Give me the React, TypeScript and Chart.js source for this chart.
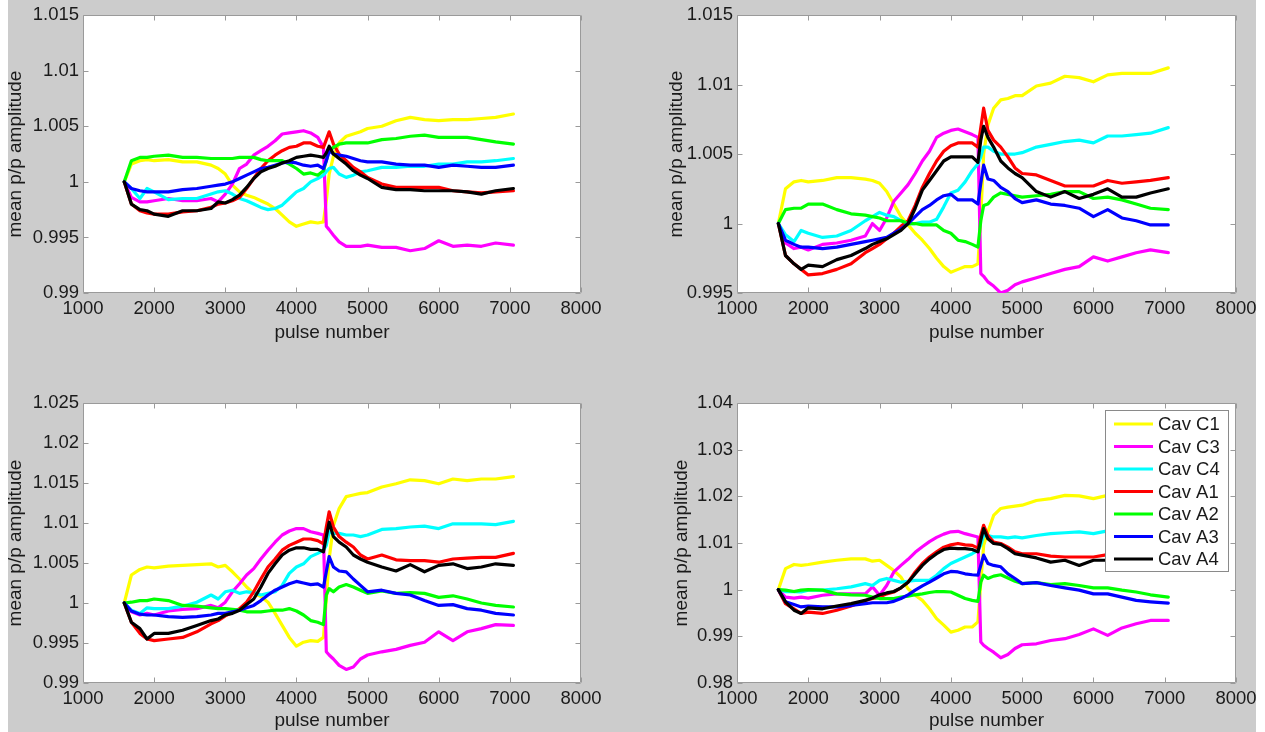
import React, { useEffect, useRef } from "react";
import { Chart, registerables } from "chart.js";

Chart.register(...registerables);

const FONT = "'Liberation Sans', Arial, Helvetica, sans-serif";
const TEXT_COLOR = "#1a1a1a";
const AXIS_COLOR = "#9a9a9a";
const TICK_SIZE = 18.5;
const TITLE_SIZE = 19;

// ---------- DATA ----------
const pulseNumbers = [
  1580, 1680, 1800, 1900, 2000, 2200, 2400, 2600, 2800, 2900, 3000, 3100, 3200, 3300, 3400,
  3500, 3600, 3700, 3800, 3900, 4000, 4100, 4200, 4300, 4380, 4420, 4460, 4520, 4600, 4700,
  4800, 4900, 5000, 5200, 5400, 5600, 5800, 6000, 6200, 6400, 6600, 6800, 7050,
];

const xTickValues = [1000, 2000, 3000, 4000, 5000, 6000, 7000, 8000];

const seriesLabels = ["Cav C1", "Cav C3", "Cav C4", "Cav A1", "Cav A2", "Cav A3", "Cav A4"];
const seriesColors = ["#ffff00", "#ff00ff", "#00ffff", "#ff0000", "#00ff00", "#0000ff", "#000000"];

const yTicksTopLeft = [0.99, 0.995, 1, 1.005, 1.01, 1.015];
const yTicksTopRight = [0.995, 1, 1.005, 1.01, 1.015];
const yTicksBottomLeft = [0.99, 0.995, 1, 1.005, 1.01, 1.015, 1.02, 1.025];
const yTicksBottomRight = [0.98, 0.99, 1, 1.01, 1.02, 1.03, 1.04];

// values are deviations of mean p/p amplitude from 1, in units of 1e-3
const tlC1 = [0, 1.6, 1.9, 2.0, 1.9, 2.0, 1.8, 1.8, 1.5, 1.2, 0.7, -0.3, -0.9, -1.2, -1.4, -1.7, -2.0, -2.4, -3.0, -3.6, -4.0, -3.8, -3.6, -3.7, -3.6, -1.7, 0.7, 2.3, 3.5, 4.1, 4.3, 4.5, 4.8, 5.0, 5.5, 5.8, 5.6, 5.5, 5.6, 5.6, 5.7, 5.8, 6.1];
const tlC3 = [0, -1.4, -1.8, -1.8, -1.7, -1.5, -1.7, -1.7, -1.5, -1.8, -1.1, -0.2, 1.2, 1.6, 2.4, 2.8, 3.2, 3.7, 4.3, 4.4, 4.5, 4.6, 4.4, 4.0, 3.1, -4.0, -4.3, -4.8, -5.4, -5.8, -5.8, -5.8, -5.7, -5.9, -5.9, -6.2, -6.0, -5.3, -5.8, -5.7, -5.8, -5.5, -5.7];
const tlC4 = [0, -0.6, -1.5, -0.6, -0.9, -1.6, -1.5, -1.5, -1.1, -0.9, -0.8, -1.1, -1.5, -1.7, -2.0, -2.3, -2.5, -2.4, -2.1, -1.5, -0.9, -0.6, 0, 0.3, 0.6, 0.9, 1.2, 1.3, 0.7, 0.4, 0.6, 0.9, 1.0, 1.3, 1.3, 1.4, 1.4, 1.6, 1.6, 1.8, 1.8, 1.9, 2.1];
const tlA1 = [0, -2.0, -2.6, -2.8, -2.9, -2.9, -2.7, -2.6, -2.3, -2.0, -1.9, -1.7, -1.4, -0.6, 0.3, 1.2, 1.9, 2.4, 2.8, 3.1, 3.2, 3.5, 3.5, 3.2, 3.1, 3.8, 4.5, 3.4, 2.5, 1.9, 1.3, 0.9, 0.4, -0.2, -0.5, -0.5, -0.5, -0.5, -0.8, -0.9, -1.0, -0.9, -0.8];
const tlA2 = [0, 1.9, 2.2, 2.2, 2.3, 2.4, 2.2, 2.2, 2.1, 2.1, 2.1, 2.1, 2.2, 2.2, 2.2, 2.0, 1.9, 1.9, 1.9, 1.6, 1.2, 0.7, 0.8, 0.6, 1.0, 1.9, 2.8, 3.1, 3.4, 3.5, 3.5, 3.5, 3.5, 3.8, 3.9, 4.1, 4.2, 4.0, 4.0, 4.0, 3.8, 3.6, 3.4];
const tlA3 = [0, -0.6, -0.8, -0.9, -0.9, -0.9, -0.7, -0.6, -0.4, -0.3, -0.2, 0, 0.3, 0.6, 0.9, 1.2, 1.3, 1.5, 1.7, 1.8, 1.7, 1.5, 1.4, 1.5, 1.2, 1.9, 2.8, 2.5, 2.4, 2.3, 2.1, 1.9, 1.8, 1.8, 1.6, 1.5, 1.5, 1.3, 1.5, 1.4, 1.3, 1.3, 1.5];
const tlA4 = [0, -2.0, -2.5, -2.6, -2.9, -3.1, -2.6, -2.6, -2.4, -1.8, -1.9, -1.6, -1.2, -0.5, 0.3, 0.9, 1.2, 1.4, 1.7, 1.9, 2.2, 2.3, 2.4, 2.3, 2.2, 2.6, 3.2, 2.5, 2.1, 1.6, 1.0, 0.6, 0.3, -0.5, -0.7, -0.7, -0.8, -0.8, -0.8, -0.9, -1.1, -0.8, -0.6];

const trC1 = [0, 2.5, 3.0, 3.1, 3.0, 3.1, 3.3, 3.3, 3.2, 3.1, 2.9, 2.3, 1.4, 0.5, -0.1, -0.7, -1.2, -1.8, -2.5, -3.1, -3.5, -3.3, -3.1, -3.1, -2.9, 0.5, 5.0, 7.1, 8.3, 8.9, 9.0, 9.2, 9.2, 9.9, 10.1, 10.6, 10.5, 10.2, 10.7, 10.8, 10.8, 10.8, 11.2];
const trC3 = [0, -1.4, -1.8, -1.7, -1.9, -1.5, -1.4, -1.2, -0.9, 0, -0.5, 0.4, 1.6, 2.2, 2.8, 3.6, 4.5, 5.2, 6.2, 6.5, 6.7, 6.8, 6.6, 6.4, 6.2, -3.6, -3.8, -4.2, -4.5, -5.0, -4.8, -4.4, -4.2, -3.9, -3.6, -3.3, -3.1, -2.4, -2.7, -2.4, -2.1, -1.9, -2.1];
const trC4 = [0, -0.8, -1.3, -0.5, -0.7, -1.0, -0.9, -0.5, 0.2, 0.5, 0.8, 0.6, 0.5, 0.2, 0, 0, 0.1, 0.1, 0.3, 1.2, 2.2, 2.4, 3.0, 3.8, 4.3, 4.8, 5.5, 5.5, 5.2, 5.0, 5.0, 5.0, 5.1, 5.5, 5.7, 5.9, 6.0, 5.8, 6.3, 6.3, 6.4, 6.5, 6.9];
const trA1 = [0, -2.3, -2.9, -3.3, -3.7, -3.6, -3.3, -2.9, -2.1, -1.8, -1.5, -1.1, -0.7, -0.2, 0.2, 1.3, 2.6, 3.6, 4.5, 5.2, 5.6, 5.8, 5.8, 5.8, 5.5, 6.9, 8.3, 6.7, 6.0, 5.5, 4.8, 4.0, 3.6, 3.5, 3.1, 2.7, 2.7, 2.7, 3.1, 2.9, 3.0, 3.1, 3.3];
const trA2 = [0, 1.0, 1.1, 1.1, 1.4, 1.4, 1.0, 0.7, 0.6, 0.5, 0.4, 0.2, 0.2, 0.2, 0, 0, -0.1, -0.1, -0.1, -0.5, -0.7, -1.2, -1.3, -1.5, -1.7, 0.2, 1.3, 1.4, 1.9, 2.2, 2.1, 2.0, 1.9, 2.0, 2.1, 2.3, 2.3, 1.8, 1.9, 1.7, 1.4, 1.1, 1.0];
const trA3 = [0, -1.2, -1.5, -1.7, -1.7, -1.8, -1.7, -1.5, -1.3, -1.2, -1.1, -1.0, -0.7, -0.4, 0, 0.5, 1.0, 1.3, 1.7, 2.0, 2.1, 1.7, 1.7, 1.7, 1.4, 2.9, 4.2, 3.2, 3.1, 2.6, 2.3, 1.8, 1.5, 1.7, 1.4, 1.3, 1.1, 0.5, 1.0, 0.4, 0.2, -0.1, -0.1];
const trA4 = [0, -2.3, -2.9, -3.3, -3.0, -3.1, -2.6, -2.3, -1.8, -1.5, -1.3, -1.1, -0.8, -0.5, 0, 1.1, 2.4, 3.1, 3.8, 4.5, 4.8, 4.8, 4.8, 4.8, 4.4, 6.0, 7.0, 6.2, 5.5, 4.5, 4.0, 3.6, 3.3, 2.3, 1.9, 2.3, 1.8, 2.1, 2.5, 1.9, 1.9, 2.2, 2.5];

const blC1 = [0, 3.5, 4.2, 4.5, 4.4, 4.6, 4.7, 4.8, 4.9, 4.5, 4.7, 3.9, 3.0, 2.0, 1.2, 0.8, 0.1, -1.3, -2.8, -4.3, -5.4, -4.9, -4.7, -4.8, -4.3, 0.5, 5.5, 9.7, 11.8, 13.3, 13.5, 13.7, 13.8, 14.5, 14.9, 15.4, 15.3, 14.9, 15.5, 15.3, 15.5, 15.5, 15.8];
const blC3 = [0, -1.1, -1.5, -1.3, -1.5, -1.0, -0.8, -0.7, -0.3, -0.6, 0.1, 1.4, 2.4, 3.5, 4.3, 5.5, 6.6, 7.6, 8.5, 9.0, 9.3, 9.3, 8.9, 8.7, 8.5, -6.1, -6.5, -7.0, -7.8, -8.3, -8.0, -7.0, -6.5, -6.1, -5.8, -5.3, -4.9, -3.6, -4.7, -3.6, -3.2, -2.7, -2.8];
const blC4 = [0, -0.9, -1.3, -0.6, -0.7, -0.7, -0.4, 0.1, 1.0, 0.5, 1.4, 1.6, 1.2, 1.4, 1.3, 1.0, 1.2, 1.4, 2.2, 3.7, 4.5, 4.9, 5.8, 6.2, 6.6, 7.2, 8.9, 8.7, 8.7, 8.5, 8.5, 8.3, 8.5, 9.2, 9.3, 9.5, 9.6, 9.3, 9.9, 9.9, 9.9, 9.8, 10.2];
const blA1 = [0, -2.4, -3.8, -4.5, -4.7, -4.5, -4.3, -3.6, -2.6, -2.2, -1.6, -1.2, -0.7, 0.1, 1.4, 3.0, 4.5, 5.5, 6.6, 7.2, 7.6, 8.0, 8.0, 7.8, 7.4, 9.5, 11.4, 9.5, 8.3, 7.6, 7.0, 6.0, 5.5, 6.0, 5.4, 5.3, 5.3, 5.1, 5.5, 5.6, 5.7, 5.7, 6.2];
const blA2 = [0, 0.1, 0.3, 0.3, 0.5, 0.3, -0.3, -0.4, -0.6, -0.7, -0.7, -0.8, -0.9, -1.1, -1.1, -1.1, -1.0, -0.9, -0.9, -0.7, -1.0, -1.5, -2.2, -2.4, -2.7, 1.0, 1.8, 1.4, 2.0, 2.3, 2.0, 1.6, 1.2, 1.5, 1.2, 1.3, 1.2, 0.7, 0.9, 0.5, 0, -0.3, -0.5];
const blA3 = [0, -1.0, -1.4, -1.5, -1.5, -1.7, -1.8, -1.7, -1.5, -1.3, -1.3, -1.1, -0.9, -0.6, -0.3, 0.3, 1.0, 1.6, 2.0, 2.4, 2.7, 2.5, 2.3, 2.4, 2.0, 3.9, 5.8, 4.5, 4.0, 3.9, 3.0, 2.2, 1.4, 1.6, 1.2, 1.0, 0.3, -0.3, -0.2, -0.7, -0.9, -1.3, -1.5];
const blA4 = [0, -2.4, -3.2, -4.5, -3.8, -3.8, -3.4, -2.8, -2.2, -2.0, -1.5, -1.3, -0.9, -0.2, 0.5, 2.0, 3.7, 4.9, 6.0, 6.6, 6.9, 6.9, 6.7, 6.7, 6.4, 8.3, 10.1, 8.3, 7.6, 7.0, 6.0, 5.5, 5.1, 4.5, 4.0, 4.8, 3.9, 4.7, 4.9, 4.3, 4.5, 4.9, 4.7];

const brC1 = [0, 4.5, 5.4, 5.2, 5.4, 5.9, 6.3, 6.6, 6.6, 6.1, 6.3, 5.2, 4.1, 2.7, 0.2, -1.2, -2.3, -4.1, -6.2, -7.6, -9.1, -8.7, -8.0, -8.0, -6.9, 1.6, 9.5, 12.4, 15.9, 17.4, 17.7, 17.9, 18.1, 19.1, 19.5, 20.2, 20.1, 19.5, 20.2, 20.4, 20.5, 20.6, 20.9];
const brC3 = [0, -1.6, -1.8, -1.6, -1.8, -1.2, -0.9, -0.9, -0.9, 0.6, -1.2, 0.9, 3.8, 5.2, 6.5, 8.0, 9.2, 10.3, 11.2, 11.9, 12.4, 12.5, 12.0, 11.6, 11.3, -11.2, -11.9, -12.6, -13.4, -14.6, -13.9, -12.6, -11.8, -11.6, -10.9, -10.5, -9.6, -8.4, -9.8, -8.2, -7.3, -6.6, -6.6];
const brC4 = [0, -0.4, -0.4, -0.5, -0.1, -0.1, 0.2, 0.6, 1.3, 0.9, 2.0, 2.4, 2.0, 1.6, 1.8, 2.0, 2.0, 2.0, 3.1, 4.5, 5.6, 6.3, 7.0, 7.7, 8.4, 9.5, 11.6, 11.6, 11.3, 11.3, 11.1, 11.3, 11.1, 11.6, 12.0, 12.2, 12.4, 12.0, 12.6, 12.7, 12.9, 12.9, 13.1];
const brA1 = [0, -3.0, -4.1, -5.1, -4.8, -5.1, -4.4, -3.5, -2.3, -1.9, -1.6, -0.9, -0.5, 0.4, 1.6, 3.8, 5.6, 7.0, 8.1, 9.1, 9.6, 9.9, 9.6, 9.5, 8.9, 11.6, 13.8, 11.6, 10.2, 9.9, 9.1, 8.1, 7.7, 7.7, 7.2, 7.0, 7.0, 7.0, 7.5, 7.4, 7.5, 7.7, 8.1];
const brA2 = [0, -0.1, -0.4, -0.1, 0, -0.1, -0.9, -1.1, -1.2, -1.6, -1.9, -1.9, -1.9, -1.6, -1.4, -1.1, -0.9, -0.6, -0.4, -0.4, -0.5, -1.2, -1.9, -2.3, -2.5, 1.6, 3.1, 2.4, 2.9, 3.2, 2.5, 1.8, 1.3, 1.5, 1.1, 1.3, 0.9, 0.4, 0.4, -0.1, -0.5, -1.1, -1.6];
const brA3 = [0, -2.6, -3.2, -3.7, -3.5, -3.7, -3.7, -3.4, -3.0, -2.8, -2.8, -2.8, -2.5, -1.9, -1.1, -0.1, 0.8, 1.6, 2.5, 3.4, 3.9, 3.8, 3.4, 3.2, 3.1, 5.2, 7.4, 5.6, 5.2, 4.9, 3.4, 2.4, 1.3, 1.5, 0.9, 0.4, -0.1, -0.9, -0.9, -1.6, -2.3, -2.6, -2.9];
const brA4 = [0, -2.6, -4.4, -5.1, -3.9, -4.1, -3.5, -3.0, -2.3, -1.8, -1.1, -0.7, -0.4, 0.4, 1.6, 3.4, 5.2, 6.6, 7.7, 8.6, 8.9, 8.8, 8.8, 8.6, 8.1, 10.6, 13.1, 10.9, 9.9, 9.7, 8.8, 7.7, 7.4, 6.8, 5.9, 6.3, 5.2, 6.3, 6.3, 6.3, 6.4, 6.8, 7.0];

// ---------- LAYOUT ----------
type PanelCfg = {
  key: string;
  series: number[][];
  yTicks: number[];
  legend: boolean;
  left: number;
  top: number;
  width: number;
  height: number;
  padLeft: number;
  padTop: number;
  padRight: number;
  yWidth: number;
  xHeight: number;
  xTitlePad: number;
};

const panels: PanelCfg[] = [
  { key: "tl", series: [tlC1, tlC3, tlC4, tlA1, tlA2, tlA3, tlA4], yTicks: yTicksTopLeft, legend: false,
    left: 0, top: 0, width: 640, height: 366, padLeft: 4, padTop: 14, padRight: 59, yWidth: 79, xHeight: 73, xTitlePad: 22 },
  { key: "tr", series: [trC1, trC3, trC4, trA1, trA2, trA3, trA4], yTicks: yTicksTopRight, legend: false,
    left: 640, top: 0, width: 625, height: 366, padLeft: 25, padTop: 14, padRight: 29, yWidth: 72, xHeight: 73, xTitlePad: 22 },
  { key: "bl", series: [blC1, blC3, blC4, blA1, blA2, blA3, blA4], yTicks: yTicksBottomLeft, legend: false,
    left: 0, top: 366, width: 640, height: 366, padLeft: 4, padTop: 37, padRight: 59, yWidth: 79, xHeight: 49, xTitlePad: 0 },
  { key: "br", series: [brC1, brC3, brC4, brA1, brA2, brA3, brA4], yTicks: yTicksBottomRight, legend: true,
    left: 640, top: 366, width: 625, height: 366, padLeft: 30, padTop: 37, padRight: 29, yWidth: 67, xHeight: 49, xTitlePad: 0 },
];

// ---------- PLUGINS ----------
const framePlugin = {
  id: "matlabFrame",
  beforeDraw(chart: any) {
    const { ctx, chartArea: a } = chart;
    ctx.save();
    ctx.fillStyle = "#ffffff";
    ctx.fillRect(a.left, a.top, a.right - a.left, a.bottom - a.top);
    ctx.restore();
  },
  beforeDatasetsDraw(chart: any) {
    const { ctx, chartArea: a, scales } = chart;
    const xs = scales.x;
    const ys = scales.y;
    const L = Math.round(a.left) + 0.5;
    const R = Math.round(a.right) - 0.5;
    const T = Math.round(a.top) + 0.5;
    const B = Math.round(a.bottom) - 0.5;
    const tick = 5;
    ctx.save();
    ctx.strokeStyle = AXIS_COLOR;
    ctx.lineWidth = 1;
    ctx.beginPath();
    ctx.rect(L, T, R - L, B - T);
    xs.ticks.forEach((t: any) => {
      const px = Math.round(xs.getPixelForValue(t.value)) + 0.5;
      ctx.moveTo(px, B);
      ctx.lineTo(px, B - tick);
      ctx.moveTo(px, T);
      ctx.lineTo(px, T + tick);
    });
    ys.ticks.forEach((t: any) => {
      const py = Math.round(ys.getPixelForValue(t.value)) + 0.5;
      ctx.moveTo(L, py);
      ctx.lineTo(L + tick, py);
      ctx.moveTo(R, py);
      ctx.lineTo(R - tick, py);
    });
    ctx.stroke();
    ctx.restore();
  },
};

const legendPlugin = {
  id: "matlabLegend",
  afterDatasetsDraw(chart: any, _args: any, opts: any) {
    if (!opts || !opts.display) return;
    const { ctx, chartArea: a } = chart;
    const items = chart.data.datasets;
    ctx.save();
    ctx.font = `${TICK_SIZE}px ${FONT}`;
    const textW = Math.max(...items.map((d: any) => ctx.measureText(d.label).width));
    const rowH = 22.5;
    const w = Math.round(53 + textW + 8);
    const h = Math.round(14 + (items.length - 1) * rowH + 12);
    const bx = Math.round(a.right - 8 - w);
    const by = Math.round(a.top + 7);
    ctx.fillStyle = "#ffffff";
    ctx.fillRect(bx, by, w, h);
    ctx.strokeStyle = "#8a8a8a";
    ctx.lineWidth = 1;
    ctx.strokeRect(bx + 0.5, by + 0.5, w, h);
    items.forEach((d: any, i: number) => {
      const cy = by + 14 + i * rowH;
      ctx.strokeStyle = d.borderColor;
      ctx.lineWidth = 3;
      ctx.beginPath();
      ctx.moveTo(bx + 9, cy);
      ctx.lineTo(bx + 48, cy);
      ctx.stroke();
      ctx.fillStyle = TEXT_COLOR;
      ctx.textAlign = "left";
      ctx.textBaseline = "middle";
      ctx.fillText(d.label, bx + 53, cy + 1);
    });
    ctx.restore();
  },
};

function fmtY(v: any) {
  return String(+Number(v).toFixed(4));
}

function Panel({ cfg }: { cfg: PanelCfg }) {
  const ref = useRef<HTMLCanvasElement>(null);
  useEffect(() => {
    const canvas = ref.current;
    if (!canvas) return;
    const yTicks = cfg.yTicks;
    const chart = new Chart(canvas, {
      type: "line",
      data: {
        datasets: cfg.series.map((vals, i) => ({
          label: seriesLabels[i],
          data: pulseNumbers.map((p, k) => ({ x: p, y: 1 + vals[k] / 1000 })),
          borderColor: seriesColors[i],
          backgroundColor: seriesColors[i],
          borderWidth: 3.2,
          pointRadius: 0,
          pointHoverRadius: 0,
          tension: 0,
          fill: false,
          order: seriesLabels.length - i,
          borderJoinStyle: "round",
          borderCapStyle: "round",
        })),
      },
      options: {
        animation: false,
        responsive: false,
        maintainAspectRatio: false,
        devicePixelRatio: 1,
        events: [],
        layout: { padding: { left: cfg.padLeft, top: cfg.padTop, right: cfg.padRight, bottom: 0 } },
        plugins: {
          legend: { display: false },
          tooltip: { enabled: false },
          matlabLegend: { display: cfg.legend },
        } as any,
        scales: {
          x: {
            type: "linear",
            min: xTickValues[0],
            max: xTickValues[xTickValues.length - 1],
            afterBuildTicks: (s: any) => {
              s.ticks = xTickValues.map((v) => ({ value: v }));
            },
            afterFit: (s: any) => {
              s.height = cfg.xHeight;
            },
            grid: { display: false, drawTicks: false },
            border: { display: false },
            ticks: {
              color: TEXT_COLOR,
              font: { family: FONT, size: TICK_SIZE },
              padding: 5,
              maxRotation: 0,
              autoSkip: false,
              callback: (v: any) => String(v),
            },
            title: {
              display: true,
              text: "pulse number",
              color: TEXT_COLOR,
              font: { family: FONT, size: TITLE_SIZE },
              padding: { top: 0, bottom: cfg.xTitlePad },
            },
          },
          y: {
            type: "linear",
            min: yTicks[0],
            max: yTicks[yTicks.length - 1],
            afterBuildTicks: (s: any) => {
              s.ticks = yTicks.map((v) => ({ value: v }));
            },
            afterFit: (s: any) => {
              s.width = cfg.yWidth;
            },
            grid: { display: false, drawTicks: false },
            border: { display: false },
            ticks: {
              color: TEXT_COLOR,
              font: { family: FONT, size: TICK_SIZE },
              padding: 4,
              autoSkip: false,
              callback: (v: any) => fmtY(v),
            },
            title: {
              display: true,
              text: "mean p/p amplitude",
              color: TEXT_COLOR,
              font: { family: FONT, size: TITLE_SIZE },
              padding: { top: 0, bottom: 0 },
            },
          },
        },
      } as any,
      plugins: [framePlugin, legendPlugin] as any,
    });
    return () => chart.destroy();
  }, [cfg]);
  return (
    <canvas
      ref={ref}
      width={cfg.width}
      height={cfg.height}
      style={{ position: "absolute", left: cfg.left, top: cfg.top, width: cfg.width, height: cfg.height }}
    />
  );
}

export default function App() {
  return (
    <div
      style={{
        position: "absolute",
        left: 0,
        top: 0,
        width: 1265,
        height: 732,
        overflow: "hidden",
        background: "#ffffff",
      }}
    >
      <div style={{ position: "absolute", left: 8, top: 0, width: 1248, height: 732, background: "#cccccc" }} />
      {panels.map((p) => (
        <Panel key={p.key} cfg={p} />
      ))}
    </div>
  );
}
